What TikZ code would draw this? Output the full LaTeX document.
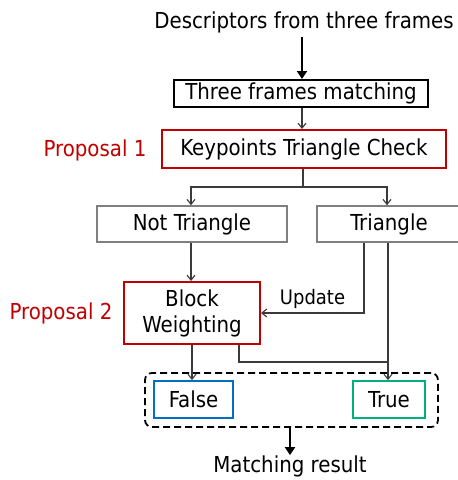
\documentclass[tikz,border=0pt]{standalone}
\usepackage{fontspec}
\setmainfont{DejaVu Sans Condensed}
\usetikzlibrary{arrows.meta,calc}
\definecolor{propred}{HTML}{C00000}
\definecolor{falseblue}{HTML}{0070C0}
\definecolor{truegreen}{HTML}{00B07A}
\definecolor{boxgray}{HTML}{7F7F7F}
\definecolor{wire}{HTML}{3A3A3A}
\tikzset{
  lbl/.style={font=\fontsize{22}{26}\selectfont, inner sep=0pt},
  box/.style={draw, rectangle, inner sep=0pt, font=\fontsize{22}{26}\selectfont, align=center},
  blackbox/.style={box, draw=black, line width=2pt},
  redbox/.style={box, draw=propred, line width=2pt},
  graybox/.style={box, draw=boxgray, line width=1.5pt},
  wirestyle/.style={draw=wire, line width=1.1pt},
  thin arrow/.style={wirestyle, -{Straight Barb[length=5pt,width=8pt]}},
  thick arrow/.style={draw=black, line width=2.8pt, -{Triangle[length=8pt,width=10pt]}},
}
\begin{document}
\begin{tikzpicture}[x=1pt,y=-1pt]
\useasboundingbox (0,0) rectangle (458,480);

% texts outside the boxes
\node[lbl] (desc) at (304,22) {Descriptors from three frames};
\node[lbl, text=propred] (p1) at (95,150) {Proposal 1};
\node[lbl, text=propred] (p2) at (61,313) {Proposal 2};
\node[lbl] (result) at (290,466) {Matching result};

% boxes
\node[blackbox, minimum width=254pt, minimum height=27pt] (tfm) at (301,93.5) {Three frames matching};
\node[redbox, minimum width=284pt, minimum height=38pt] (ktc) at (304,149) {Keypoints Triangle Check};
\node[graybox, minimum width=190pt, minimum height=36pt] (nt) at (192,224) {Not Triangle};
\node[graybox, minimum width=160pt, minimum height=36pt] (tri) at (397,224) {};
\node[lbl] (tritext) at (389,224) {Triangle};
\node[redbox, minimum width=136pt, minimum height=62pt] (bw) at (192,313) {Block\\Weighting};

\node[box, draw=black, line width=1.8pt, rounded corners=7pt,
      dash pattern=on 7pt off 4pt, minimum width=293pt, minimum height=54pt] (grp) at (291.5,400) {};
\node[box, draw=falseblue, line width=1.8pt, minimum width=79pt, minimum height=37pt] (fls) at (193.5,399.5) {False};
\node[box, draw=truegreen, line width=1.8pt, minimum width=72pt, minimum height=37pt] (tru) at (389,399.5) {True};

% junction points
\coordinate (split) at (303,187);
\coordinate (join) at (388,362);

% connectors
\draw[thick arrow] (desc.south -| 302,0) ++(0,4) -- (tfm.north -| 302,0);
\draw[thin arrow] (tfm.south -| 302,0) -- (ktc.north -| 302,0);
\draw[wirestyle] (ktc.south -| split) -- (split);
\draw[thin arrow] (split) -| (nt.north -| 191,0);
\draw[thin arrow] (split) -| (tri.north -| 387,0);
\draw[thin arrow] (nt.south -| 191,0) -- (bw.north -| 191,0);
\draw[thin arrow] (tri.south -| 364,0) |- (bw.east)
  node[pos=0.75, above=4pt, lbl, font=\fontsize{20}{24}\selectfont] {Update};
\draw[thin arrow] (tri.south -| 388,0) -- (tru.north -| 388,0);
\draw[thin arrow] (bw.south -| 192,0) -- (fls.north -| 192,0);
\draw[wirestyle] (bw.south -| 239,0) |- (join);
\draw[thick arrow] (grp.south -| 290,0) -- (result.north -| 290,0);
\end{tikzpicture}
\end{document}
